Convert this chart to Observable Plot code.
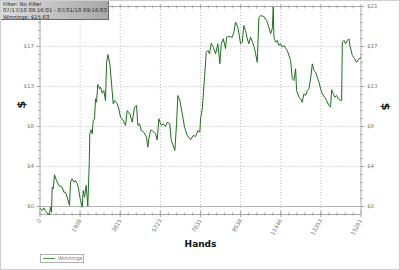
<!DOCTYPE html>
<html>
<head>
<meta charset="utf-8">
<script src="https://cdn.jsdelivr.net/npm/d3@7"></script>
<script src="https://cdn.jsdelivr.net/npm/@observablehq/plot@0.6"></script>
<style>
  body { margin: 0; background: white; }
  #wrap { position: relative; width: 400px; height: 270px; overflow: hidden; font-family: "DejaVu Sans", sans-serif; }
  #hdr { position: absolute; left: 0; top: 0; width: 109px; height: 20px; box-sizing: border-box;
         border: 1px solid #6a6a6a; background: linear-gradient(to right, #dcdcdc, #a8a8a8);
         font-size: 5.3px; line-height: 6.3px; color: #1e1e1e; padding: 0 0 0 2px; white-space: nowrap; }
  #legend { position: absolute; left: 40px; top: 254px; width: 44px; height: 9px; box-sizing: border-box;
         border: 1px solid #b0b0b0; background: white; font-size: 5.3px; color: #777; }
  #legend .sw { position: absolute; left: 2px; top: 3px; width: 12px; height: 1px; background: #4a9a4a; }
  #legend .lb { position: absolute; left: 17px; top: 0px; line-height: 7px; }
  #border { position: absolute; left: 0; top: 0; width: 400px; height: 270px; box-sizing: border-box; border: 1px solid #cfcfcf; pointer-events: none; }
</style>
</head>
<body>
<div id="wrap"></div>
<script>
// ---- data ----
const hands = [0,105,181,262,371,452,499,547,580,628,
  690,785,894,1056,1132,1213,1294,1403,1451,1531,
  1608,1688,1769,1817,1926,2007,2055,2116,2197,2273,
  2340,2368,2435,2483,2530,2592,2640,2687,2749,2830,
  2877,2958,3034,3115,3163,3225,3320,3401,3481,3543,
  3672,3748,3829,3957,4066,4147,4271,4385,4494,4590,
  4651,4732,4813,4937,5065,5127,5175,5255,5336,5493,
  5574,5650,5764,5859,5969,6050,6173,6240,6335,6411,
  6492,6554,6649,6763,6872,7001,7158,7286,7395,7505,
  7600,7633,7714,7824,7904,7981,8061,8142,8237,8347,
  8456,8551,8618,8713,8822,8870,8979,9141,9217,9298,
  9408,9536,9616,9693,9774,9854,9931,10012,10107,10202,
  10250,10330,10406,10487,10644,10772,10882,10963,11043,11091,
  11120,11200,11281,11357,11438,11519,11595,11757,11914,11995,
  12071,12152,12199,12309,12389,12470,12546,12627,12708,12784,
  12865,12946,13022,13103,13184,13260,13341,13422,13531,13626,
  13735,13816,13864,13945,14021,14102,14183,14292,14340,14373,
  14449,14530,14611,14687,14735,14848,14958,15053,15162,15261];
const winnings = [-0.18,-0.42,-0.14,-0.49,-0.77,-0.84,-0.07,-0.60,2.03,1.86,
  3.33,2.73,2.21,2.03,1.50,1.50,0.98,0.11,2.55,2.91,
  2.55,2.73,2.38,2.03,0.63,-0.07,1.68,0.98,2.21,0.03,
  4.48,7.63,8.05,7.63,9.03,9.21,11.31,10.95,12.81,12.36,
  12.53,11.90,12.18,11.13,14.98,15.96,14.98,12.88,10.78,11.13,
  10.78,10.26,9.38,9.03,8.51,10.08,9.73,8.85,10.43,10.61,
  8.51,8.68,7.98,7.80,7.28,6.23,7.11,7.98,7.98,7.63,
  7.00,9.21,8.51,8.68,8.40,8.85,8.68,6.93,6.41,5.88,
  8.68,11.66,11.13,9.73,8.33,7.46,7.00,7.46,7.35,7.98,
  7.80,9.21,10.26,13.58,16.21,16.38,16.03,17.15,16.73,16.03,
  17.08,14.98,17.08,17.61,16.56,17.78,17.85,17.78,18.31,19.36,
  18.83,17.08,17.26,19.01,18.48,17.61,17.08,17.78,17.22,16.59,
  16.03,15.15,19.79,20.05,19.95,19.53,18.83,18.13,18.66,20.93,
  17.78,17.26,17.43,16.91,17.08,16.73,16.91,16.38,15.33,13.41,
  13.23,14.46,12.18,11.48,11.31,10.95,11.83,11.66,12.18,12.36,
  13.41,14.98,14.28,14.11,13.58,13.06,12.36,11.83,11.48,11.13,
  10.61,10.43,12.26,11.83,11.48,11.66,11.31,11.13,11.13,17.26,
  17.43,17.08,17.43,17.61,16.91,15.86,15.51,15.15,15.51,15.63];
const xTicks = [0,1908,3815,5723,7631,9538,11446,13353,15261];
const xTickLabels = ["0","1908","3815","5723","7631","9538","11446","13353","15261"];
const yTicks = [0,4.2,8.4,12.6,16.8,21];
const yTickLabels = ["$0","$4","$8","$13","$17","$21"];
const xLabel = "Hands";
const yLabel = "$";
const seriesName = "Winnings";
const headerLines = ["Filter: No Filter", "07/17/10 09:16:01 - 07/31/10 09:16:03", "Winnings: $15.63"];

// ---- build ----
const data = hands.map((h, i) => ({hands: h, winnings: winnings[i]}));
const xMap = new Map(xTicks.map((d, i) => [d, xTickLabels[i]]));
const yMap = new Map(yTicks.map((d, i) => [d, yTickLabels[i]]));
const xMinor = d3.range(0, 40).map(i => xTicks[0] + (xTicks[8] - xTicks[0]) * i / 40);
const yMinor = d3.range(0, 25).map(i => yTicks[0] + (yTicks[5] - yTicks[0]) * i / 25);
const blank = () => "";
const axisCol = "#a8a8a8";
// the top-left label sits under the header box, as in the reference
const yTicksLeft = yTicks.slice(0, -1);

function ticksBoth(axisFn, vals, anchor, size) {
  return [
    axisFn(vals, {anchor, tickSize: size, tickFormat: blank, label: null, stroke: axisCol}),
    axisFn(vals, {anchor, tickSize: -size, tickFormat: blank, label: null, stroke: axisCol})
  ];
}

const chart = Plot.plot({
  width: 400, height: 270,
  marginLeft: 39.5, marginRight: 39.5, marginTop: 6, marginBottom: 56,
  style: {fontFamily: "DejaVu Sans, sans-serif", fontSize: "5.5px", color: "#666", background: "white", overflow: "visible"},
  x: {domain: [xTicks[0], xTicks[8]]},
  y: {domain: [-0.84, yTicks[5]]},
  marks: [
    Plot.gridX(xTicks.slice(1, -1), {stroke: "#bdbdbd", strokeOpacity: 1, strokeDasharray: "1,2"}),
    Plot.gridY(yTicks.slice(1, -1), {stroke: "#bdbdbd", strokeOpacity: 1, strokeDasharray: "1,2"}),
    Plot.ruleY([0], {stroke: "#b5b5b5"}),
    Plot.frame({stroke: axisCol}),
    // minor ticks (crossing the axis line)
    ...ticksBoth(Plot.axisX, xMinor, "bottom", 1.5),
    ...ticksBoth(Plot.axisX, xMinor, "top", 1.5),
    ...ticksBoth(Plot.axisY, yMinor, "left", 1.5),
    ...ticksBoth(Plot.axisY, yMinor, "right", 1.5),
    // major ticks
    Plot.axisX(xTicks, {anchor: "bottom", tickSize: 3, tickPadding: 2, tickRotate: -60, tickFormat: d => xMap.get(d), label: null, stroke: axisCol, fill: "#777"}),
    Plot.axisX(xTicks, {anchor: "bottom", tickSize: -3, tickFormat: blank, label: null, stroke: axisCol}),
    Plot.axisX(xTicks, {anchor: "top", tickSize: 3, tickFormat: blank, label: null, stroke: axisCol}),
    Plot.axisY(yTicksLeft, {anchor: "left", tickSize: 3, tickPadding: 3, tickFormat: d => yMap.get(d), label: null, stroke: axisCol, fill: "#777"}),
    Plot.axisY(yTicks, {anchor: "right", tickSize: 3, tickPadding: 3, tickFormat: d => yMap.get(d), label: null, stroke: axisCol, fill: "#777"}),
    // line
    Plot.line(data, {x: "hands", y: "winnings", stroke: "#1f6f1f", strokeWidth: 1}),
    // axis titles
    Plot.text([xLabel], {frameAnchor: "bottom", dy: 32, text: d => d, fontWeight: "bold", fontSize: 9, fill: "#111"}),
    Plot.text([yLabel], {frameAnchor: "left", dx: -19, dy: -2, rotate: -90, text: d => d, fontWeight: "bold", fontSize: 11, fill: "#111"}),
    Plot.text([yLabel], {frameAnchor: "right", dx: 25, dy: 0, rotate: 90, text: d => d, fontWeight: "bold", fontSize: 11, fill: "#111"})
  ]
});

const wrap = document.getElementById("wrap");
wrap.appendChild(chart);
chart.style.position = "absolute";
chart.style.left = "0"; chart.style.top = "0";

const hdr = document.createElement("div");
hdr.id = "hdr";
headerLines.forEach(t => { const d = document.createElement("div"); d.textContent = t; hdr.appendChild(d); });
wrap.appendChild(hdr);

const lg = document.createElement("div");
lg.id = "legend";
const sw = document.createElement("div"); sw.className = "sw"; lg.appendChild(sw);
const lb = document.createElement("div"); lb.className = "lb"; lb.textContent = seriesName; lg.appendChild(lb);
wrap.appendChild(lg);

const bd = document.createElement("div"); bd.id = "border"; wrap.appendChild(bd);
</script>
</body>
</html>
